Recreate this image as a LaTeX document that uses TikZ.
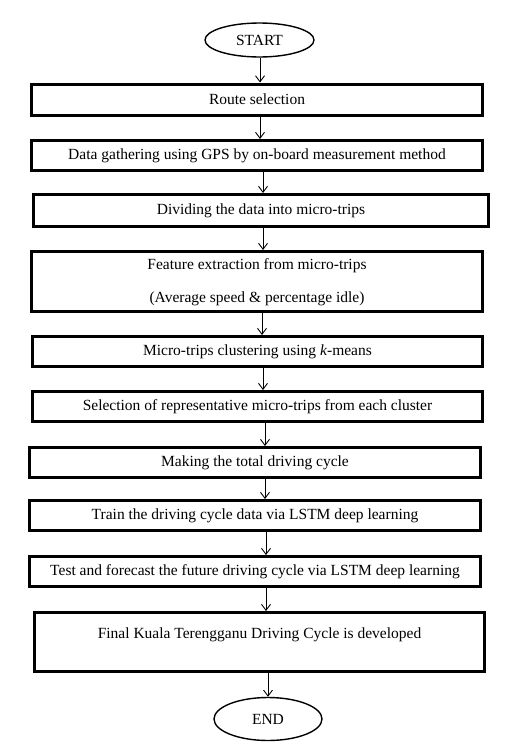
\documentclass[tikz,border=0pt]{standalone}
\usepackage{fontspec}
\setmainfont{Liberation Serif}
\usetikzlibrary{arrows.meta,shapes.geometric}
\begin{document}
\begin{tikzpicture}[x=1pt,y=-1pt,
  box/.style={draw,line width=3pt,rectangle,inner sep=0pt,font=\fontsize{15.5}{18}\selectfont},
  term/.style={draw,line width=1.4pt,ellipse,inner sep=0pt,font=\fontsize{15.5}{18}\selectfont},
  arr/.style={line width=0.9pt,-{Straight Barb[length=6pt,width=9pt,line width=0.9pt]}}]
\useasboundingbox (0,0) rectangle (529,755);
\node[term,minimum width=109pt,minimum height=34pt] (start) at (259.5,40) {START};
\node[box,minimum width=451pt,minimum height=31pt] (route) at (257,99.5) {Route selection};
\node[box,minimum width=451pt,minimum height=30pt] (data) at (257,155.5) {Data gathering using GPS by on-board measurement method};
\node[box,minimum width=455pt,minimum height=32pt] (div) at (261,210.5) {Dividing the data into micro-trips};
\node[box,minimum width=451pt,minimum height=60pt] (feat) at (257,281.5) {};
\node[font=\fontsize{15.5}{18}\selectfont] (featA) at (257,266) {Feature extraction from micro-trips};
\node[font=\fontsize{15.5}{18}\selectfont] (featB) at (257,299) {(Average speed \& percentage idle)};
\node[box,minimum width=450pt,minimum height=30pt] (micro) at (257.5,351.5) {Micro-trips clustering using \textit{k}-means};
\node[box,minimum width=450pt,minimum height=30pt] (sel) at (257.5,406.5) {Selection of representative micro-trips from each cluster};
\node[box,minimum width=451pt,minimum height=30pt] (make) at (255,462.5) {Making the total driving cycle};
\node[box,minimum width=451pt,minimum height=30pt] (train) at (255,515.5) {Train the driving cycle data via LSTM deep learning};
\node[box,minimum width=451pt,minimum height=30pt] (test) at (255,571.5) {Test and forecast the future driving cycle via LSTM deep learning};
\node[box,minimum width=450pt,minimum height=59pt] (final) at (259.5,642) {};
\node[font=\fontsize{15.5}{18}\selectfont] (finalT) at (259.5,635) {Final Kuala Terengganu Driving Cycle is developed};
\node[term,minimum width=108pt,minimum height=43pt] (end) at (268,719) {END};
\draw[arr] (start.south -| 260,0) -- (route.north -| 260,0);
\draw[arr] (route.south -| 260,0) -- (data.north -| 260,0);
\draw[arr] (data.south -| 263,0) -- (div.north -| 263,0);
\draw[arr] (div.south -| 263,0) -- (feat.north -| 263,0);
\draw[arr] (feat.south -| 262,0) -- (micro.north -| 262,0);
\draw[arr] (micro.south -| 263,0) -- (sel.north -| 263,0);
\draw[arr] (sel.south -| 265,0) -- (make.north -| 265,0);
\draw[arr] (make.south -| 265,0) -- (train.north -| 265,0);
\draw[arr] (train.south -| 266,0) -- (test.north -| 266,0);
\draw[arr] (test.south -| 266,0) -- (final.north -| 266,0);
\draw[arr] (final.south -| 268,0) -- (end.north -| 268,0);
\end{tikzpicture}
\end{document}
